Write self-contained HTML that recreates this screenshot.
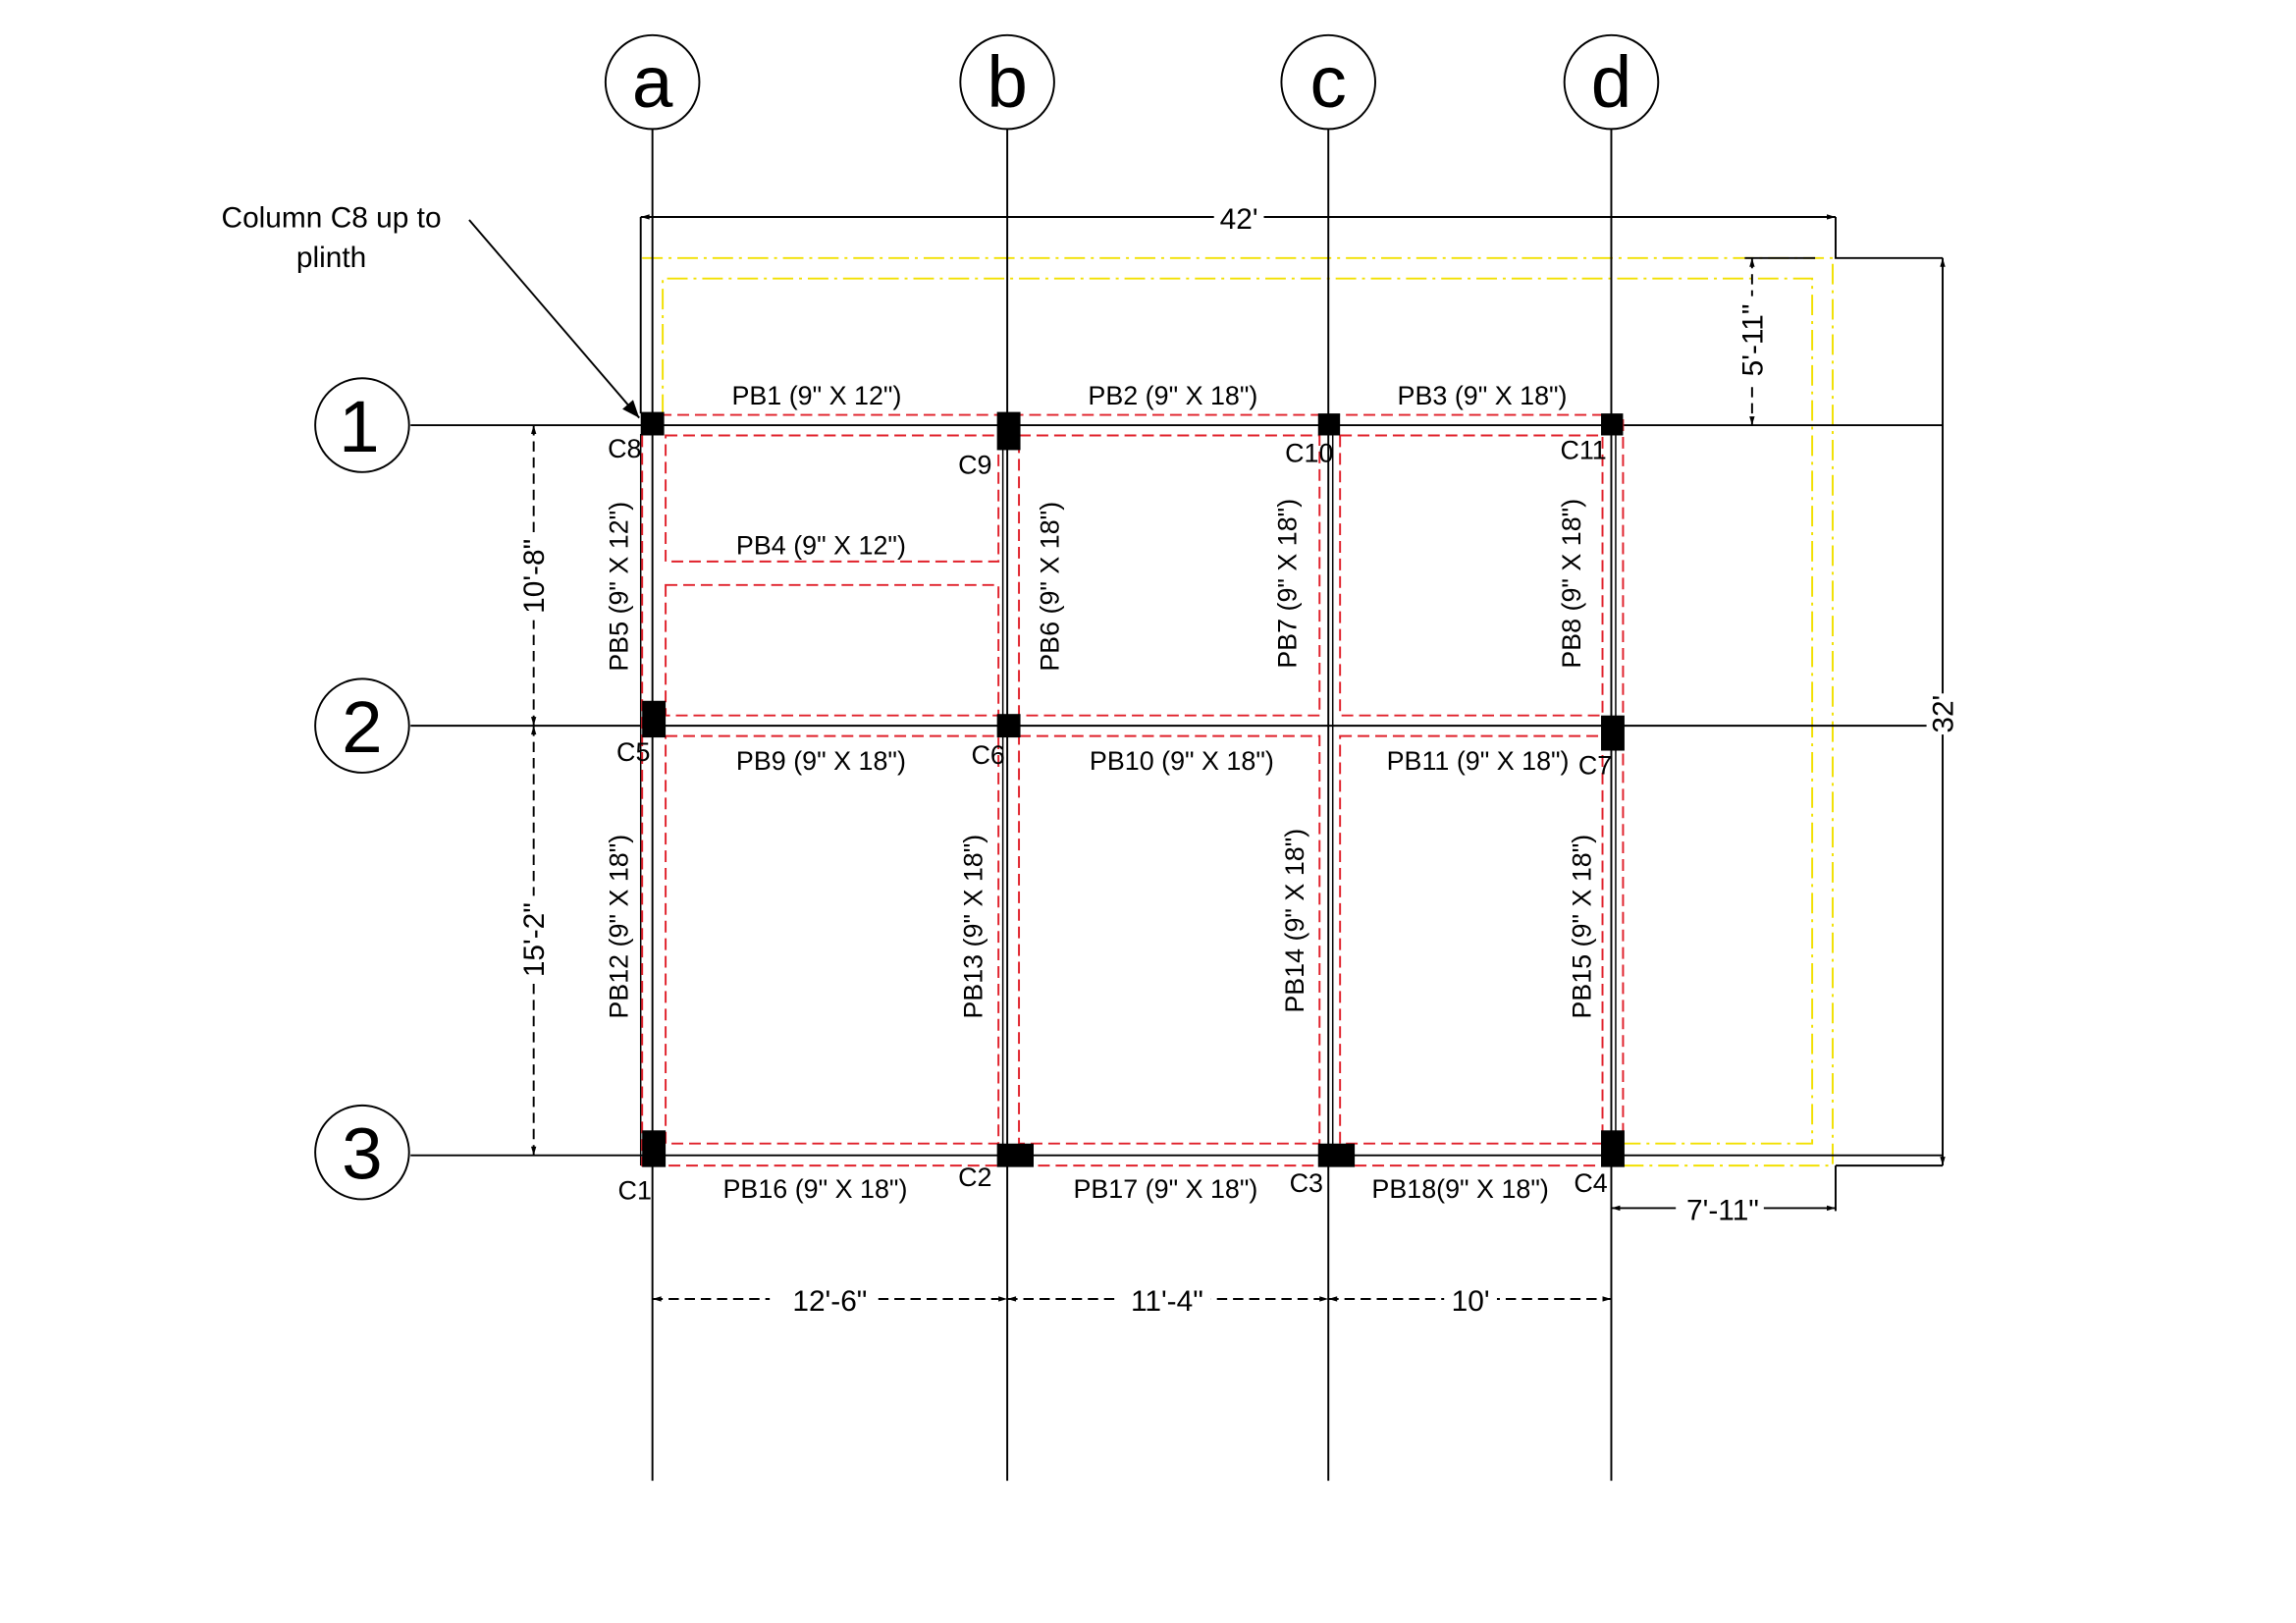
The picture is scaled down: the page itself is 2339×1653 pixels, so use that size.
<!DOCTYPE html>
<html><head><meta charset="utf-8"><style>
html,body{margin:0;padding:0;background:#fff;}
svg{display:block;}
text{font-family:"Liberation Sans",Arial,sans-serif;fill:#000;}
</style></head><body>
<svg width="2339" height="1653" viewBox="0 0 1566 1107" preserveAspectRatio="none" xmlns="http://www.w3.org/2000/svg">
<defs>
<marker id="ar" viewBox="0 0 10 10" refX="10" refY="5" markerWidth="10" markerHeight="6" orient="auto-start-reverse" markerUnits="userSpaceOnUse"><path d="M0,2 L10,5 L0,8 z" fill="#000"/></marker>
<marker id="ar2" viewBox="0 0 10 10" refX="10" refY="5" markerWidth="20" markerHeight="12" orient="auto" markerUnits="userSpaceOnUse"><path d="M0,1 L10,5 L0,9 z" fill="#000"/></marker>
</defs>
<rect width="1566" height="1107" fill="#fff"/>

<g fill="none" stroke="#f2e000" stroke-width="1.3" stroke-dasharray="14,4,2,4">
<path d="M438,176 H1250 V795 H1107"/>
<path d="M452,283 V190 H1236 V780 H1107"/>
</g>

<g stroke="#000" stroke-width="1.3" fill="none">
<line x1="445" y1="88" x2="445" y2="1010"/>
<line x1="687" y1="88" x2="687" y2="1010"/>
<line x1="906" y1="88" x2="906" y2="1010"/>
<line x1="1099" y1="88" x2="1099" y2="1010"/>
<line x1="280" y1="290" x2="1325" y2="290"/>
<line x1="280" y1="495" x2="1325" y2="495"/>
<line x1="280" y1="788" x2="1325" y2="788"/>
<line x1="1102" y1="297" x2="1102" y2="782" stroke-width="1"/>
<line x1="909" y1="297" x2="909" y2="782" stroke-width="1"/>
<line x1="684" y1="297" x2="684" y2="782" stroke-width="1"/>
<line x1="437" y1="148" x2="437" y2="282"/>
<line x1="437" y1="296" x2="437" y2="795" stroke-width="1"/>
<path d="M1252,148 V176 H1325"/>
<path d="M1252,795 H1325"/>
<path d="M1252,795 V826"/>
<path d="M1190,176 H1238"/>
</g>

<g fill="none" stroke="#e0202a" stroke-width="1.3" stroke-dasharray="8,4">
<rect x="438" y="283" width="669" height="512"/>
<rect x="454" y="297" width="227" height="86"/>
<rect x="454" y="399" width="227" height="89"/>
<rect x="695" y="297" width="205" height="191"/>
<rect x="914" y="297" width="179" height="191"/>
<rect x="454" y="502" width="227" height="278"/>
<rect x="695" y="502" width="205" height="278"/>
<rect x="914" y="502" width="179" height="278"/>
</g>

<g fill="#000">
<rect x="437" y="281" width="16" height="16"/>
<rect x="680" y="281" width="16" height="26"/>
<rect x="899" y="282" width="15" height="15"/>
<rect x="1092" y="282" width="15" height="15"/>
<rect x="438" y="478" width="16" height="25"/>
<rect x="680" y="487" width="16" height="16"/>
<rect x="1092" y="488" width="16" height="24"/>
<rect x="438" y="771" width="16" height="25"/>
<rect x="680" y="780" width="25" height="16"/>
<rect x="899" y="780" width="25" height="16"/>
<rect x="1092" y="771" width="16" height="25"/>
</g>

<g fill="#fff" stroke="#000" stroke-width="1.3">
<circle cx="445" cy="56" r="32"/><circle cx="687" cy="56" r="32"/>
<circle cx="906" cy="56" r="32"/><circle cx="1099" cy="56" r="32"/>
<circle cx="247" cy="290" r="32"/><circle cx="247" cy="495" r="32"/>
<circle cx="247" cy="786" r="32"/>
</g>
<g font-size="50" text-anchor="middle">
<text x="445" y="73">a</text><text x="687" y="73">b</text>
<text x="906" y="73">c</text><text x="1099" y="73">d</text>
<text x="245" y="308">1</text><text x="247" y="513">2</text><text x="247" y="804">3</text>
</g>

<g stroke="#000" stroke-width="1.3" fill="none">
<line x1="437" y1="148" x2="1252" y2="148" marker-start="url(#ar)" marker-end="url(#ar)"/>
<line x1="1325" y1="176" x2="1325" y2="795" marker-start="url(#ar)" marker-end="url(#ar)"/>
<line x1="1195" y1="176" x2="1195" y2="290" stroke-dasharray="7,4" marker-start="url(#ar)" marker-end="url(#ar)"/>
<line x1="364" y1="290" x2="364" y2="495" stroke-dasharray="7,4" marker-start="url(#ar)" marker-end="url(#ar)"/>
<line x1="364" y1="495" x2="364" y2="788" stroke-dasharray="7,4" marker-start="url(#ar)" marker-end="url(#ar)"/>
<line x1="445" y1="886" x2="687" y2="886" stroke-dasharray="7,4" marker-start="url(#ar)" marker-end="url(#ar)"/>
<line x1="687" y1="886" x2="906" y2="886" stroke-dasharray="7,4" marker-start="url(#ar)" marker-end="url(#ar)"/>
<line x1="906" y1="886" x2="1099" y2="886" stroke-dasharray="7,4" marker-start="url(#ar)" marker-end="url(#ar)"/>
<line x1="1099" y1="824" x2="1252" y2="824" marker-start="url(#ar)" marker-end="url(#ar)"/>
<line x1="320" y1="150" x2="436" y2="285" marker-end="url(#ar2)"/>
</g>
<g font-size="20" text-anchor="middle">
<rect x="828" y="138" width="34" height="20" fill="#fff"/>
<text x="845" y="156">42'</text>
<rect x="525" y="876" width="74" height="20" fill="#fff"/>
<text x="566" y="894">12'-6"</text>
<rect x="762" y="876" width="64" height="20" fill="#fff"/>
<text x="796" y="894">11'-4"</text>
<rect x="985" y="876" width="36" height="20" fill="#fff"/>
<text x="1003" y="894">10'</text>
<rect x="1143" y="814" width="60" height="20" fill="#fff"/>
<text x="1175" y="832">7'-11"</text>
<g transform="translate(1332,487) rotate(-90)"><rect x="-14" y="-18" width="28" height="22" fill="#fff"/><text x="0" y="0">32'</text></g>
<g transform="translate(1202,232) rotate(-90)"><rect x="-30" y="-18" width="60" height="22" fill="#fff"/><text x="0" y="0">5'-11"</text></g>
<g transform="translate(371,393) rotate(-90)"><rect x="-30" y="-18" width="60" height="22" fill="#fff"/><text x="0" y="0">10'-8"</text></g>
<g transform="translate(371,641) rotate(-90)"><rect x="-30" y="-18" width="60" height="22" fill="#fff"/><text x="0" y="0">15'-2"</text></g>
</g>

<g font-size="18" text-anchor="middle">
<text x="226" y="155" font-size="20">Column C8 up to</text>
<text x="226" y="182" font-size="20">plinth</text>
<text x="557" y="276">PB1 (9" X 12")</text>
<text x="800" y="276">PB2 (9" X 18")</text>
<text x="1011" y="276">PB3 (9" X 18")</text>
<text x="560" y="378">PB4 (9" X 12")</text>
<text x="560" y="525">PB9 (9" X 18")</text>
<text x="806" y="525">PB10 (9" X 18")</text>
<text x="1008" y="525">PB11 (9" X 18")</text>
<text x="556" y="817">PB16 (9" X 18")</text>
<text x="795" y="817">PB17 (9" X 18")</text>
<text x="996" y="817">PB18(9" X 18")</text>
<text x="426" y="312">C8</text>
<text x="665" y="323">C9</text>
<text x="893" y="315">C10</text>
<text x="1080" y="313">C11</text>
<text x="432" y="519">C5</text>
<text x="674" y="521">C6</text>
<text x="1088" y="528">C7</text>
<text x="433" y="818">C1</text>
<text x="665" y="809">C2</text>
<text x="891" y="813">C3</text>
<text x="1085" y="813">C4</text>
<g transform="translate(428,400) rotate(-90)"><text x="0" y="0">PB5 (9" X 12")</text></g>
<g transform="translate(722,400) rotate(-90)"><text x="0" y="0">PB6 (9" X 18")</text></g>
<g transform="translate(884,398) rotate(-90)"><text x="0" y="0">PB7 (9" X 18")</text></g>
<g transform="translate(1078,398) rotate(-90)"><text x="0" y="0">PB8 (9" X 18")</text></g>
<g transform="translate(428,632) rotate(-90)"><text x="0" y="0">PB12 (9" X 18")</text></g>
<g transform="translate(670,632) rotate(-90)"><text x="0" y="0">PB13 (9" X 18")</text></g>
<g transform="translate(889,628) rotate(-90)"><text x="0" y="0">PB14 (9" X 18")</text></g>
<g transform="translate(1085,632) rotate(-90)"><text x="0" y="0">PB15 (9" X 18")</text></g>
</g>
</svg>
</body></html>
